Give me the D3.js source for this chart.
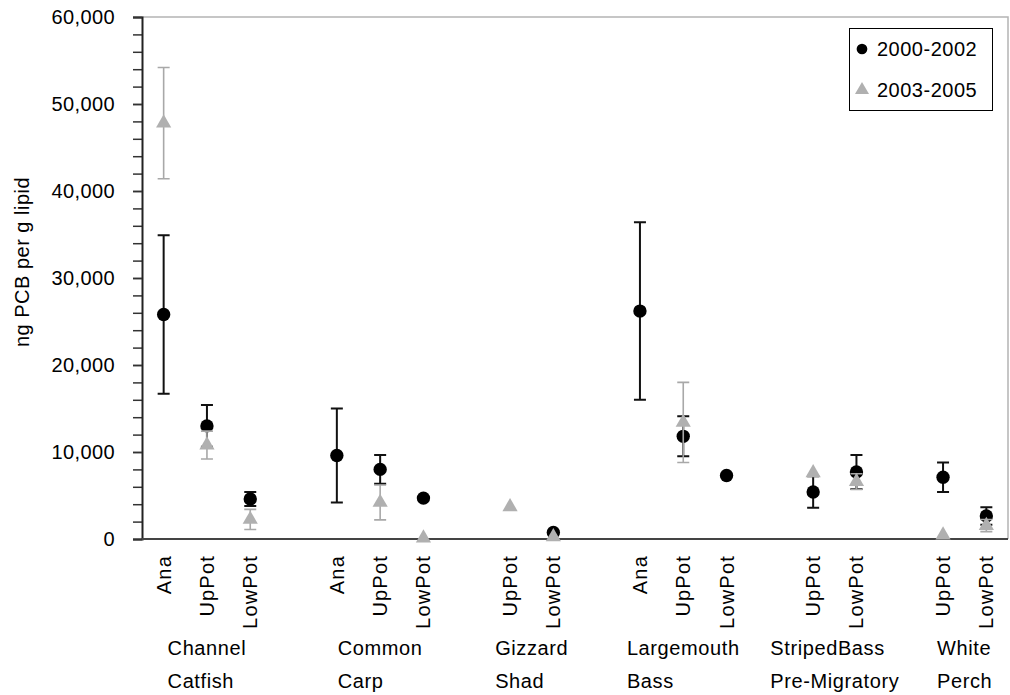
<!DOCTYPE html>
<html>
<head>
<meta charset="utf-8">
<script src="https://cdn.jsdelivr.net/npm/d3@7"></script>
<style>
  body { margin: 0; background: #fff; }
  svg { display: block; }
  text { font-family: "Liberation Sans", Arial, sans-serif; fill: #000; }
</style>
</head>
<body>
<svg width="1010" height="695"></svg>
<script>
// species groups, two-line labels, and sampling sites inside each group
var groupNames = [
  ["Channel", "Catfish"],
  ["Common", "Carp"],
  ["Gizzard", "Shad"],
  ["Largemouth", "Bass"],
  ["StripedBass", "Pre-Migratory"],
  ["White", "Perch"]
];
var groupSites = [
  ["Ana", "UpPot", "LowPot"],
  ["Ana", "UpPot", "LowPot"],
  ["UpPot", "LowPot"],
  ["Ana", "UpPot", "LowPot"],
  ["UpPot", "LowPot"],
  ["UpPot", "LowPot"]
];

// one value per site, in the order above (null = no sample)
var mean0002 = [25800, 13000, 4600, 9600, 8000, 4700, null, 750, 26200, 11800, 7300, 5400, 7700, 7100, 2650];
var err0002  = [9100, 2400, 800, 5400, 1650, 0, null, 0, 10200, 2300, 0, 1800, 1950, 1700, 1000];
var mean0305 = [47800, 10800, 2250, null, 4200, 100, 3700, 250, null, 13400, null, 7600, 6600, 450, 1550];
var err0305  = [6400, 1600, 1150, null, 2000, 0, 0, 0, null, 4600, null, 0, 900, 0, 700];

var seriesNames = ["2000-2002", "2003-2005"];
var yTicks = [0, 10000, 20000, 30000, 40000, 50000, 60000];

var svg = d3.select("svg");

// build category slots: the sites with an empty slot between groups
var slots = [], points = [], groupSpan = [];
groupSites.forEach(function(sites, g) {
  if (g > 0) slots.push({ key: "gap" + g, label: "" });
  var first = slots.length;
  sites.forEach(function(s) {
    var key = g + "-" + s;
    slots.push({ key: key, label: s });
    points.push({ key: key });
  });
  groupSpan.push([first, slots.length - 1]);
});
points.forEach(function(p, i) {
  p.m1 = mean0002[i]; p.e1 = err0002[i];
  p.m2 = mean0305[i]; p.e2 = err0305[i];
});

var x = d3.scaleBand()
    .domain(slots.map(function(d) { return d.key; }))
    .range([142, 1008]);
var y = d3.scaleLinear().domain([0, 60000]).range([539, 17]);
var cx = function(k) { return x(k) + x.bandwidth() / 2; };

// plot frame (top and right, light grey)
svg.append("path")
   .attr("d", "M142,17H1008V539")
   .attr("fill", "none")
   .attr("stroke", "#b4b4b4")
   .attr("stroke-width", 1.5);

// y axis with minor ticks
var minor = d3.range(0, 60001, 2000);
svg.append("g")
   .attr("transform", "translate(142,0)")
   .call(d3.axisLeft(y).tickValues(minor).tickSize(9).tickFormat(""))
   .call(function(g) {
     g.select(".domain").remove();
     g.selectAll("line").attr("stroke", "#333").attr("stroke-width", 1.5);
   });
var yAxis = svg.append("g")
   .attr("transform", "translate(142,0)")
   .call(d3.axisLeft(y).tickValues(yTicks).tickSize(9).tickPadding(18).tickFormat(d3.format(",")));
yAxis.select(".domain").attr("stroke", "#222").attr("stroke-width", 2);
yAxis.selectAll("line").attr("stroke", "#333").attr("stroke-width", 1.5);
yAxis.selectAll("text")
   .style("font-size", "20px")
   .style("letter-spacing", "0.4px")
   .attr("fill", "#000");

// x axis line
svg.append("line")
   .attr("x1", 142).attr("x2", 1008)
   .attr("y1", 539).attr("y2", 539)
   .attr("stroke", "#444").attr("stroke-width", 2);

// site labels, rotated
svg.append("g").selectAll("text")
   .data(slots.filter(function(d) { return d.label; }))
   .enter().append("text")
   .attr("transform", function(d) { return "translate(" + cx(d.key) + ",555) rotate(-90)"; })
   .attr("text-anchor", "end")
   .attr("dy", "0.35em")
   .style("font-size", "20px")
   .style("letter-spacing", "1.2px")
   .text(function(d) { return d.label; });

// group labels: two left-aligned lines, block centred on the group
groupNames.forEach(function(lines, g) {
  var span = groupSpan[g];
  var center = (cx(slots[span[0]].key) + cx(slots[span[1]].key)) / 2;
  var t = svg.append("text")
      .style("font-size", "20px")
      .style("letter-spacing", "0.6px");
  lines.forEach(function(l, i) {
    t.append("tspan").attr("y", 655 + i * 33).text(l);
  });
  var w = d3.max(t.selectAll("tspan").nodes(), function(n) { return n.getComputedTextLength(); });
  t.selectAll("tspan").attr("x", center - w / 2);
});

// y axis title
svg.append("text")
   .attr("transform", "translate(22,262) rotate(-90)")
   .attr("text-anchor", "middle")
   .attr("dy", "0.35em")
   .style("font-size", "20px")
   .style("letter-spacing", "0.5px")
   .text("ng PCB per g lipid");

var circle = d3.symbol().type(d3.symbolCircle).size(140);
var triangle = d3.symbol().type(d3.symbolTriangle).size(100);

function drawSeries(mKey, eKey, color, barColor, barWidth, sym) {
  var data = points.filter(function(p) { return p[mKey] != null; });
  var g = svg.append("g");
  var bars = data.filter(function(p) { return p[eKey] > 0; });
  g.selectAll(".bar")
   .data(bars).enter().append("path")
   .attr("fill", "none")
   .attr("stroke", barColor)
   .attr("stroke-width", barWidth)
   .attr("d", function(p) {
     var xc = cx(p.key), top = y(p[mKey] + p[eKey]), bot = y(Math.max(0, p[mKey] - p[eKey]));
     return "M" + xc + "," + top + "V" + bot +
            "M" + (xc - 6) + "," + top + "H" + (xc + 6) +
            "M" + (xc - 6) + "," + bot + "H" + (xc + 6);
   });
  g.selectAll(".mark")
   .data(data).enter().append("path")
   .attr("transform", function(p) { return "translate(" + cx(p.key) + "," + y(p[mKey]) + ")"; })
   .attr("d", sym)
   .attr("fill", color);
}
drawSeries("m1", "e1", "#000", "#111", 2, circle);
drawSeries("m2", "e2", "#b0b0b0", "#a8a8a8", 1.6, triangle);

// legend
var lg = svg.append("g");
lg.append("rect")
  .attr("x", 849.5).attr("y", 28.5)
  .attr("width", 143).attr("height", 82)
  .attr("fill", "#fff").attr("stroke", "#000").attr("stroke-width", 1);
var legendSyms = [d3.symbol().type(d3.symbolCircle).size(90), d3.symbol().type(d3.symbolTriangle).size(85)];
var legendColors = ["#000", "#b0b0b0"];
seriesNames.forEach(function(name, i) {
  var yy = 49 + i * 41;
  lg.append("path")
    .attr("transform", "translate(862," + yy + ")")
    .attr("d", legendSyms[i])
    .attr("fill", legendColors[i]);
  lg.append("text")
    .attr("x", 877).attr("y", yy + 7)
    .style("font-size", "20px")
    .style("letter-spacing", "0.5px")
    .text(name);
});
</script>
</body>
</html>
